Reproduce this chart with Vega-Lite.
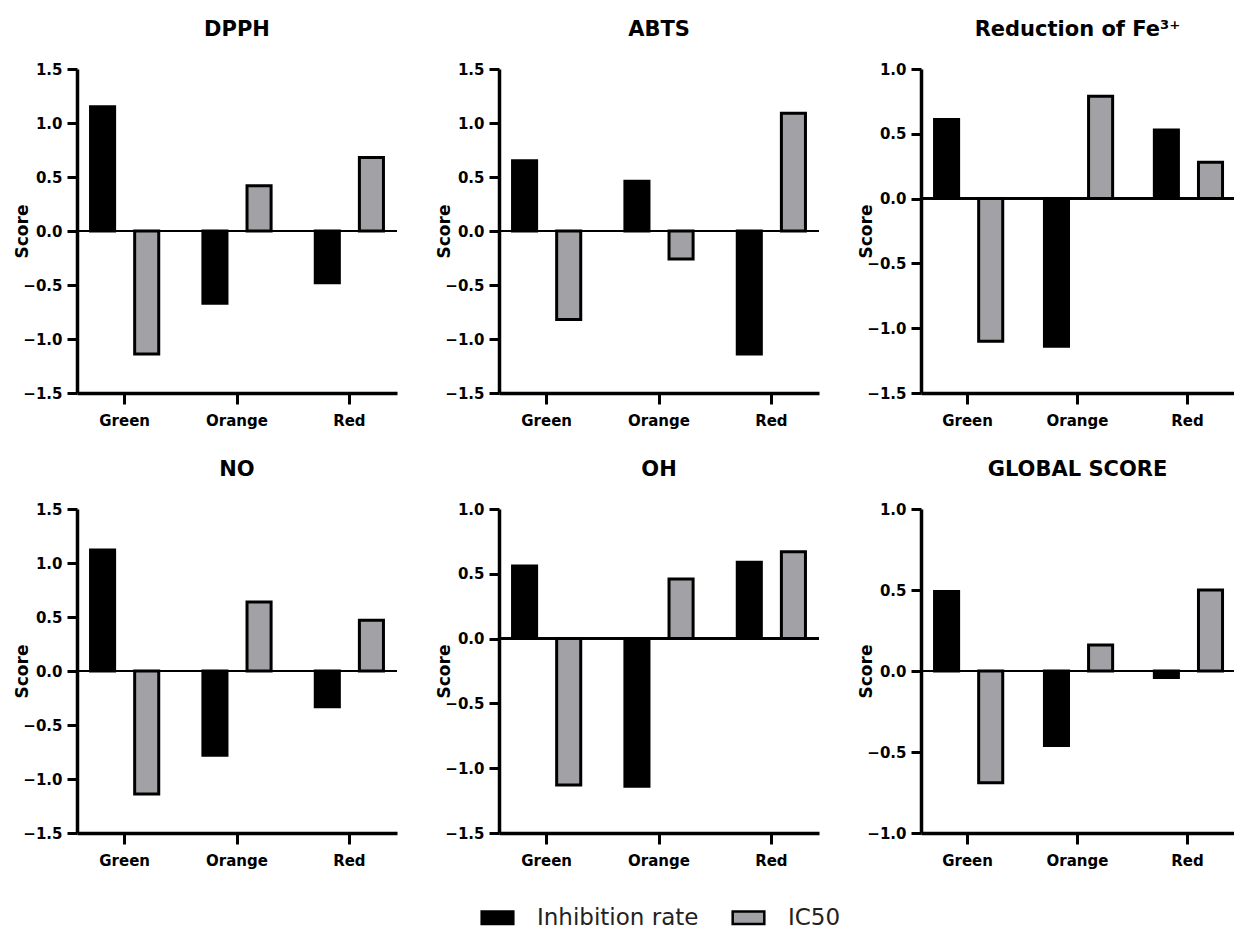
{
  "$schema": "https://vega.github.io/schema/vega-lite/v6.json",
  "padding": {"left": 13, "top": 19, "right": 0, "bottom": 0},
  "background": "white",
  "data": {"values": [
    {"panel": "DPPH", "group": "Green", "measure": "Inhibition rate", "score": 1.15},
    {"panel": "DPPH", "group": "Green", "measure": "IC50", "score": -1.14},
    {"panel": "DPPH", "group": "Orange", "measure": "Inhibition rate", "score": -0.67},
    {"panel": "DPPH", "group": "Orange", "measure": "IC50", "score": 0.42},
    {"panel": "DPPH", "group": "Red", "measure": "Inhibition rate", "score": -0.48},
    {"panel": "DPPH", "group": "Red", "measure": "IC50", "score": 0.68},
    {"panel": "ABTS", "group": "Green", "measure": "Inhibition rate", "score": 0.65},
    {"panel": "ABTS", "group": "Green", "measure": "IC50", "score": -0.82},
    {"panel": "ABTS", "group": "Orange", "measure": "Inhibition rate", "score": 0.46},
    {"panel": "ABTS", "group": "Orange", "measure": "IC50", "score": -0.26},
    {"panel": "ABTS", "group": "Red", "measure": "Inhibition rate", "score": -1.14},
    {"panel": "ABTS", "group": "Red", "measure": "IC50", "score": 1.09},
    {"panel": "Fe", "group": "Green", "measure": "Inhibition rate", "score": 0.61},
    {"panel": "Fe", "group": "Green", "measure": "IC50", "score": -1.10},
    {"panel": "Fe", "group": "Orange", "measure": "Inhibition rate", "score": -1.14},
    {"panel": "Fe", "group": "Orange", "measure": "IC50", "score": 0.79},
    {"panel": "Fe", "group": "Red", "measure": "Inhibition rate", "score": 0.53},
    {"panel": "Fe", "group": "Red", "measure": "IC50", "score": 0.28},
    {"panel": "NO", "group": "Green", "measure": "Inhibition rate", "score": 1.12},
    {"panel": "NO", "group": "Green", "measure": "IC50", "score": -1.14},
    {"panel": "NO", "group": "Orange", "measure": "Inhibition rate", "score": -0.78},
    {"panel": "NO", "group": "Orange", "measure": "IC50", "score": 0.64},
    {"panel": "NO", "group": "Red", "measure": "Inhibition rate", "score": -0.33},
    {"panel": "NO", "group": "Red", "measure": "IC50", "score": 0.47},
    {"panel": "OH", "group": "Green", "measure": "Inhibition rate", "score": 0.56},
    {"panel": "OH", "group": "Green", "measure": "IC50", "score": -1.13},
    {"panel": "OH", "group": "Orange", "measure": "Inhibition rate", "score": -1.14},
    {"panel": "OH", "group": "Orange", "measure": "IC50", "score": 0.46},
    {"panel": "OH", "group": "Red", "measure": "Inhibition rate", "score": 0.59},
    {"panel": "OH", "group": "Red", "measure": "IC50", "score": 0.67},
    {"panel": "GLOBAL", "group": "Green", "measure": "Inhibition rate", "score": 0.49},
    {"panel": "GLOBAL", "group": "Green", "measure": "IC50", "score": -0.69},
    {"panel": "GLOBAL", "group": "Orange", "measure": "Inhibition rate", "score": -0.46},
    {"panel": "GLOBAL", "group": "Orange", "measure": "IC50", "score": 0.16},
    {"panel": "GLOBAL", "group": "Red", "measure": "Inhibition rate", "score": -0.04},
    {"panel": "GLOBAL", "group": "Red", "measure": "IC50", "score": 0.50}
  ]},
  "resolve": {"scale": {"color": "shared"}, "legend": {"color": "shared"}},
  "spacing": 31,
  "vconcat": [
    {
      "spacing": 37,
      "resolve": {"scale": {"color": "shared"}, "legend": {"color": "shared"}},
      "hconcat": [
        {
          "title": "DPPH", "width": 320, "height": 324,
          "transform": [{"filter": "datum.panel == 'DPPH'"}],
          "layer": [
            {"mark": {"type": "bar", "stroke": "black", "strokeWidth": 3},
             "encoding": {
               "x": {"field": "group", "type": "nominal", "sort": ["Green", "Orange", "Red"], "scale": {"paddingInner": 0.152, "paddingOuter": 0}},
               "xOffset": {"field": "measure", "type": "nominal", "sort": ["Inhibition rate", "IC50"], "scale": {"paddingInner": 0.4545, "paddingOuter": 0.307}},
               "y": {"field": "score", "type": "quantitative", "scale": {"domain": [-1.5, 1.5], "nice": false}, "axis": {"title": "Score", "values": [-1.5, -1, -0.5, 0, 0.5, 1, 1.5]}},
               "color": {"field": "measure", "type": "nominal", "scale": {"domain": ["Inhibition rate", "IC50"], "range": ["#000000", "#a2a2a6"]}, "legend": {"orient": "none", "legendX": 403, "legendY": 831, "direction": "horizontal", "title": null}}
             }},
            {"mark": {"type": "rule", "color": "black", "strokeWidth": 2}, "encoding": {"y": {"datum": 0}}}
          ]
        },
        {
          "title": "ABTS", "width": 320, "height": 324,
          "transform": [{"filter": "datum.panel == 'ABTS'"}],
          "layer": [
            {"mark": {"type": "bar", "stroke": "black", "strokeWidth": 3},
             "encoding": {
               "x": {"field": "group", "type": "nominal", "sort": ["Green", "Orange", "Red"], "scale": {"paddingInner": 0.152, "paddingOuter": 0}},
               "xOffset": {"field": "measure", "type": "nominal", "sort": ["Inhibition rate", "IC50"], "scale": {"paddingInner": 0.4545, "paddingOuter": 0.307}},
               "y": {"field": "score", "type": "quantitative", "scale": {"domain": [-1.5, 1.5], "nice": false}, "axis": {"title": "Score", "values": [-1.5, -1, -0.5, 0, 0.5, 1, 1.5]}},
               "color": {"field": "measure", "type": "nominal", "scale": {"domain": ["Inhibition rate", "IC50"], "range": ["#000000", "#a2a2a6"]}, "legend": {"orient": "none", "legendX": 403, "legendY": 831, "direction": "horizontal", "title": null}}
             }},
            {"mark": {"type": "rule", "color": "black", "strokeWidth": 2}, "encoding": {"y": {"datum": 0}}}
          ]
        },
        {
          "title": "Reduction of Fe³⁺", "width": 313, "height": 324,
          "transform": [{"filter": "datum.panel == 'Fe'"}],
          "layer": [
            {"mark": {"type": "bar", "stroke": "black", "strokeWidth": 3},
             "encoding": {
               "x": {"field": "group", "type": "nominal", "sort": ["Green", "Orange", "Red"], "scale": {"paddingInner": 0.152, "paddingOuter": 0}},
               "xOffset": {"field": "measure", "type": "nominal", "sort": ["Inhibition rate", "IC50"], "scale": {"paddingInner": 0.4545, "paddingOuter": 0.307}},
               "y": {"field": "score", "type": "quantitative", "scale": {"domain": [-1.5, 1.0], "nice": false}, "axis": {"title": "Score", "values": [-1.5, -1, -0.5, 0, 0.5, 1]}},
               "color": {"field": "measure", "type": "nominal", "scale": {"domain": ["Inhibition rate", "IC50"], "range": ["#000000", "#a2a2a6"]}, "legend": {"orient": "none", "legendX": 403, "legendY": 831, "direction": "horizontal", "title": null}}
             }},
            {"mark": {"type": "rule", "color": "black", "strokeWidth": 2}, "encoding": {"y": {"datum": 0}}}
          ]
        }
      ]
    },
    {
      "spacing": 37,
      "resolve": {"scale": {"color": "shared"}, "legend": {"color": "shared"}},
      "hconcat": [
        {
          "title": "NO", "width": 320, "height": 324,
          "transform": [{"filter": "datum.panel == 'NO'"}],
          "layer": [
            {"mark": {"type": "bar", "stroke": "black", "strokeWidth": 3},
             "encoding": {
               "x": {"field": "group", "type": "nominal", "sort": ["Green", "Orange", "Red"], "scale": {"paddingInner": 0.152, "paddingOuter": 0}},
               "xOffset": {"field": "measure", "type": "nominal", "sort": ["Inhibition rate", "IC50"], "scale": {"paddingInner": 0.4545, "paddingOuter": 0.307}},
               "y": {"field": "score", "type": "quantitative", "scale": {"domain": [-1.5, 1.5], "nice": false}, "axis": {"title": "Score", "values": [-1.5, -1, -0.5, 0, 0.5, 1, 1.5]}},
               "color": {"field": "measure", "type": "nominal", "scale": {"domain": ["Inhibition rate", "IC50"], "range": ["#000000", "#a2a2a6"]}, "legend": {"orient": "none", "legendX": 403, "legendY": 831, "direction": "horizontal", "title": null}}
             }},
            {"mark": {"type": "rule", "color": "black", "strokeWidth": 2}, "encoding": {"y": {"datum": 0}}}
          ]
        },
        {
          "title": "OH", "width": 320, "height": 324,
          "transform": [{"filter": "datum.panel == 'OH'"}],
          "layer": [
            {"mark": {"type": "bar", "stroke": "black", "strokeWidth": 3},
             "encoding": {
               "x": {"field": "group", "type": "nominal", "sort": ["Green", "Orange", "Red"], "scale": {"paddingInner": 0.152, "paddingOuter": 0}},
               "xOffset": {"field": "measure", "type": "nominal", "sort": ["Inhibition rate", "IC50"], "scale": {"paddingInner": 0.4545, "paddingOuter": 0.307}},
               "y": {"field": "score", "type": "quantitative", "scale": {"domain": [-1.5, 1.0], "nice": false}, "axis": {"title": "Score", "values": [-1.5, -1, -0.5, 0, 0.5, 1]}},
               "color": {"field": "measure", "type": "nominal", "scale": {"domain": ["Inhibition rate", "IC50"], "range": ["#000000", "#a2a2a6"]}, "legend": {"orient": "none", "legendX": 403, "legendY": 831, "direction": "horizontal", "title": null}}
             }},
            {"mark": {"type": "rule", "color": "black", "strokeWidth": 2}, "encoding": {"y": {"datum": 0}}}
          ]
        },
        {
          "title": "GLOBAL SCORE", "width": 313, "height": 324,
          "transform": [{"filter": "datum.panel == 'GLOBAL'"}],
          "layer": [
            {"mark": {"type": "bar", "stroke": "black", "strokeWidth": 3},
             "encoding": {
               "x": {"field": "group", "type": "nominal", "sort": ["Green", "Orange", "Red"], "scale": {"paddingInner": 0.152, "paddingOuter": 0}},
               "xOffset": {"field": "measure", "type": "nominal", "sort": ["Inhibition rate", "IC50"], "scale": {"paddingInner": 0.4545, "paddingOuter": 0.307}},
               "y": {"field": "score", "type": "quantitative", "scale": {"domain": [-1.0, 1.0], "nice": false}, "axis": {"title": "Score", "values": [-1, -0.5, 0, 0.5, 1]}},
               "color": {"field": "measure", "type": "nominal", "scale": {"domain": ["Inhibition rate", "IC50"], "range": ["#000000", "#a2a2a6"]}, "legend": {"orient": "none", "legendX": 403, "legendY": 831, "direction": "horizontal", "title": null}}
             }},
            {"mark": {"type": "rule", "color": "black", "strokeWidth": 2}, "encoding": {"y": {"datum": 0}}}
          ]
        }
      ]
    }
  ],
  "config": {
    "view": {"stroke": null},
    "font": "DejaVu Sans",
    "title": {"fontSize": 21, "fontWeight": "bold", "font": "DejaVu Sans", "color": "black", "offset": 22, "anchor": "middle", "frame": "group"},
    "axis": {"grid": false, "domainColor": "black", "tickColor": "black", "labelColor": "black", "titleColor": "black", "labelFont": "DejaVu Sans", "titleFont": "DejaVu Sans", "labelFontWeight": "bold", "titleFontWeight": "bold", "labelFontSize": 15, "domainWidth": 3.5, "tickWidth": 3},
    "axisX": {"title": null, "labelAngle": 0, "tickSize": 11, "labelPadding": 9},
    "axisY": {"titleFontSize": 17, "titlePadding": -9, "tickSize": 10, "labelPadding": 5, "format": ".1f"},
    "legend": {"labelFontSize": 23, "labelFont": "DejaVu Sans", "labelColor": "#222222", "labelLimit": 400, "symbolType": "M-1,-0.4H1V0.4H-1Z", "symbolSize": 1000, "symbolStrokeColor": "black", "symbolStrokeWidth": 2.5, "labelOffset": 22, "columnPadding": 28, "symbolOpacity": 1}
  }
}
